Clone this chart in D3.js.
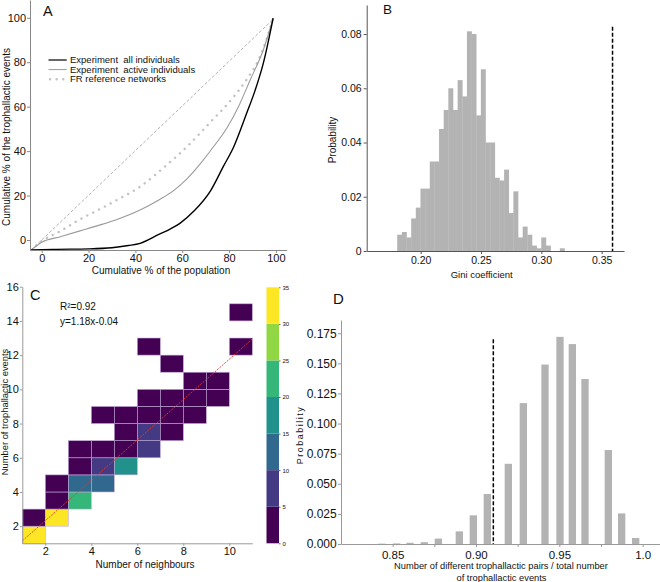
<!DOCTYPE html>
<html><head><meta charset="utf-8">
<script src="https://cdn.jsdelivr.net/npm/d3@7"></script>
<style>body{margin:0;background:#fff}svg{display:block;font-family:"Liberation Sans",Arial,sans-serif}text{white-space:pre}</style>
</head><body><svg id="c" width="660" height="582"></svg>
<script>
// ---------- Panel A data (Lorenz curves) ----------
const equalityX = [-4.5, 99];
const equalityY = [-4.5, 99.5];
const allX = [-4.5, 5, 20, 30, 37, 42, 50, 55, 59, 65, 72, 77.5, 82, 87.5, 91, 94.6, 98.8];
const allY = [-4.5, -4.2, -4, -3.5, -2.5, -1.5, 2.5, 5, 7.5, 13, 22, 33, 42, 57, 67, 79.5, 99.8];
const activeX = [-4.5, 0, 8, 16, 25, 33, 42, 50, 57, 62, 67.5, 73, 79, 84, 89, 94.6, 98.8];
const activeY = [-4.5, -1, 1.5, 4, 6.8, 9.6, 13.5, 18, 22.8, 27.5, 34, 41.5, 50.3, 60, 72, 85.5, 99.8];
const frX = [-4.5, 0, 8, 15, 25, 33, 42, 52, 62, 72, 82, 88, 93, 98.8];
const frY = [-4.5, -0.5, 4, 8.5, 14, 18.5, 24, 32.5, 42, 53, 64.5, 73, 82, 99.8];
const legendLabels = ["Experiment  all individuals", "Experiment  active individuals", "FR reference networks"];
const aTicks = [0, 20, 40, 60, 80, 100];

// ---------- Panel B data (Gini histogram) ----------
const giniBinStart = 0.1806;
const giniBinWidth = 0.00385;
const giniProb = [0.006, 0.007, 0.005, 0.012, 0.016, 0.023, 0.023, 0.033, 0.033, 0.045, 0.052, 0.060,
  0.052, 0.063, 0.057, 0.081, 0.080, 0.050, 0.067, 0.040, 0.040, 0.027, 0.026, 0.030, 0.014, 0.022,
  0.005, 0.009, 0.006, 0.002, 0.001, 0.005, 0.002, 0, 0, 0.001];
const giniObserved = 0.359;
const giniLineTop = 0.0827;
const bXTicks = [0.20, 0.25, 0.30, 0.35];
const bYTicks = [0, 0.02, 0.04, 0.06, 0.08];

// ---------- Panel C data (2D histogram) ----------
const cellX = [1, 1, 2, 2, 3, 2, 3, 4, 3, 4, 5, 3, 4, 5, 6, 5, 6, 7, 4, 5, 6, 7, 8, 6, 7, 8, 9, 8, 9, 7, 6, 10, 10];
const cellY = [1, 2, 2, 3, 3, 4, 4, 4, 5, 5, 5, 6, 6, 6, 6, 7, 7, 7, 8, 8, 8, 8, 8, 9, 9, 9, 9, 10, 10, 11, 12, 12, 14];
const cellVal = [33, 2, 33, 2, 22, 2, 12, 12, 2, 7, 17, 2, 2, 2, 7, 2, 7, 2, 2, 2, 2, 2, 2, 2, 2, 2, 2, 2, 2, 2, 2, 2, 2];
const fitSlope = 1.18, fitIntercept = -0.04;
const cXTicks = [2, 4, 6, 8, 10];
const cYTicks = [2, 4, 6, 8, 10, 12, 14, 16];
const cbarLevels = [0, 5, 10, 15, 20, 25, 30, 35];

// ---------- Panel D data (pair ratio histogram) ----------
const dCenters = [0.8435, 0.8524, 0.8604, 0.869, 0.8774, 0.89, 0.8984, 0.9068, 0.9194, 0.9284, 0.9414, 0.9504, 0.9578, 0.9654, 0.9794, 0.9874, 0.9958];
const dProb = [0.0003, 0.0005, 0.001, 0.0015, 0.0045, 0.0105, 0.0238, 0.0415, 0.0666, 0.117, 0.149, 0.172, 0.166, 0.137, 0.078, 0.0254, 0.005];
const dBinWidth = 0.0044;
const dObserved = 0.9104;
const dLineTop = 0.17;
const dXTicks = [0.85, 0.875, 0.90, 0.925, 0.95, 0.975, 1.0];
const dXLabels = ["0.85", "", "0.90", "", "0.95", "", "1.0"];
const dYTicks = [0, 0.025, 0.05, 0.075, 0.1, 0.125, 0.15, 0.175];

const FONT = '"Liberation Sans", Arial, sans-serif';
const svg = d3.select("#c");

function styleAxis(g, color, fs) {
  g.attr("font-family", FONT).attr("font-size", fs);
  g.select(".domain").attr("stroke", color).attr("stroke-width", 1);
  g.selectAll(".tick line").attr("stroke", color);
  g.selectAll(".tick text").attr("fill", "#111");
}
function label(x, y, txt, fs, anchor, rot, extra) {
  const t = svg.append("text").attr("font-family", FONT).attr("font-size", fs)
    .attr("text-anchor", anchor || "start").attr("fill", "#111").text(txt);
  if (rot) t.attr("transform", `translate(${x},${y}) rotate(${rot})`);
  else t.attr("x", x).attr("y", y);
  if (extra) extra(t);
  return t;
}

// ================= Panel A =================
const xA = d3.scaleLinear().domain([-5, 104.6]).range([30, 286.7]);
const yA = d3.scaleLinear().domain([-4.5, 108]).range([250, 0]);
const lineA = d3.line().x(d => xA(d[0])).y(d => yA(d[1])).curve(d3.curveMonotoneX);
const gA = svg.append("g");
gA.append("path").datum(d3.zip(equalityX, equalityY)).attr("d", d3.line().x(d => xA(d[0])).y(d => yA(d[1])))
  .attr("fill", "none").attr("stroke", "#9a9a9a").attr("stroke-width", 0.8).attr("stroke-dasharray", "3,2");
gA.append("path").datum(d3.zip(frX, frY)).attr("d", lineA)
  .attr("fill", "none").attr("stroke", "#c2c2c2").attr("stroke-width", 2.4)
  .attr("stroke-linecap", "round").attr("stroke-dasharray", "0.1,6.5");
gA.append("path").datum(d3.zip(activeX, activeY)).attr("d", lineA)
  .attr("fill", "none").attr("stroke", "#9a9a9a").attr("stroke-width", 1.1);
gA.append("path").datum(d3.zip(allX, allY)).attr("d", lineA)
  .attr("fill", "none").attr("stroke", "#000").attr("stroke-width", 1.4);
styleAxis(gA.append("g").attr("transform", "translate(0,250)")
  .call(d3.axisBottom(xA).tickValues(aTicks).tickSize(3).tickSizeOuter(0).tickPadding(1.5)), "#888", 11);
styleAxis(gA.append("g").attr("transform", "translate(30,0)")
  .call(d3.axisLeft(yA).tickValues(aTicks).tickSize(3).tickSizeOuter(0).tickPadding(1)), "#888", 11);
// legend
const legStyles = [
  {stroke: "#000", w: 1.2, dash: null, cap: "butt"},
  {stroke: "#9a9a9a", w: 1, dash: null, cap: "butt"},
  {stroke: "#c2c2c2", w: 2.4, dash: "0.1,6.5", cap: "round"}
];
legendLabels.forEach((t, i) => {
  const y = 60 + i * 9.6;
  gA.append("line").attr("x1", 48.5 + (i === 2 ? 1.5 : 0)).attr("x2", 66.7).attr("y1", y).attr("y2", y)
    .attr("stroke", legStyles[i].stroke).attr("stroke-width", legStyles[i].w)
    .attr("stroke-dasharray", legStyles[i].dash).attr("stroke-linecap", legStyles[i].cap);
  label(70, y + 3.2, t, 9.5);
});
label(161, 273.5, "Cumulative % of the population", 10, "middle");
label(10, 137, "Cumulative % of the trophallactic events", 10, "middle", -90);
label(43, 15.5, "A", 14.5);

// ================= Panel B =================
const xB = d3.scaleLinear().domain([0.1553, 0.3685]).range([366.7, 624]);
const yB = d3.scaleLinear().domain([0, 0.0907]).range([251, 5]);
const gB = svg.append("g");
gB.selectAll("rect").data(giniProb).join("rect")
  .attr("x", (d, i) => xB(giniBinStart + i * giniBinWidth))
  .attr("width", xB(giniBinStart + giniBinWidth) - xB(giniBinStart) + 0.3)
  .attr("y", d => yB(d)).attr("height", d => yB(0) - yB(d))
  .attr("fill", "#b3b3b3");
gB.append("line").attr("x1", xB(giniObserved)).attr("x2", xB(giniObserved))
  .attr("y1", yB(giniLineTop)).attr("y2", yB(0))
  .attr("stroke", "#000").attr("stroke-width", 1.5).attr("stroke-dasharray", "4,2");
styleAxis(gB.append("g").attr("transform", "translate(0,251)")
  .call(d3.axisBottom(xB).tickValues(bXTicks).tickFormat(d3.format(".2f")).tickSize(3).tickSizeOuter(0).tickPadding(3)), "#555", 10.5);
styleAxis(gB.append("g").attr("transform", "translate(366.7,0)")
  .call(d3.axisLeft(yB).tickValues(bYTicks).tickFormat(d => d === 0 ? "0" : d3.format(".2f")(d)).tickSize(3).tickSizeOuter(0).tickPadding(2)), "#555", 10.5);
label(481.7, 278, "Gini coefficient", 9.5, "middle");
label(336, 140, "Probability", 10, "middle", -90);
label(383, 14, "B", 13.5);

// ================= Panel C =================
const xC = d3.scaleLinear().domain([1, 11]).range([22.3, 252.3]);
const yC = d3.scaleLinear().domain([1, 16]).range([543.3, 286.7]);
const colorC = d3.scaleThreshold().domain([5, 10, 15, 20, 25, 30])
  .range(d3.range(7).map(i => d3.interpolateViridis(i / 6)));
const gC = svg.append("g");
gC.selectAll("rect").data(d3.range(cellX.length)).join("rect")
  .attr("x", i => xC(cellX[i])).attr("y", i => yC(cellY[i] + 1))
  .attr("width", i => xC(cellX[i] + 1) - xC(cellX[i]))
  .attr("height", i => yC(cellY[i]) - yC(cellY[i] + 1))
  .attr("fill", i => colorC(cellVal[i]))
  .attr("stroke", "#c2abd9").attr("stroke-width", 0.6);
gC.append("line").attr("x1", xC(1)).attr("x2", xC(11))
  .attr("y1", yC(fitSlope * 1 + fitIntercept)).attr("y2", yC(fitSlope * 11 + fitIntercept))
  .attr("stroke", "#e8352c").attr("stroke-width", 0.9).attr("stroke-dasharray", "2,1.2");
styleAxis(gC.append("g").attr("transform", "translate(0,543.3)")
  .call(d3.axisBottom(xC).tickValues(cXTicks).tickSize(2.5).tickSizeOuter(0).tickPadding(1.5)), "#999", 11);
styleAxis(gC.append("g").attr("transform", "translate(22.3,0)")
  .call(d3.axisLeft(yC).tickValues(cYTicks).tickSize(2.5).tickSizeOuter(0).tickPadding(1)), "#999", 11);
label(145, 567.5, "Number of neighbours", 10, "middle");
label(7.5, 412, "Number of trophallactic events", 9.4, "middle", -90);
label(60, 309.5, "R²=0.92", 10);
label(60, 325, "y=1.18x-0.04", 10);
label(30, 300, "C", 14.5);
// colorbar
const yCb = d3.scaleLinear().domain([0, 35]).range([543.3, 287.3]);
const gCb = svg.append("g");
gCb.selectAll("rect").data(cbarLevels.slice(0, -1)).join("rect")
  .attr("x", 266.5).attr("width", 12.5)
  .attr("y", d => yCb(d + 5)).attr("height", d => yCb(d) - yCb(d + 5))
  .attr("fill", d => colorC(d + 2.5));
styleAxis(gCb.append("g").attr("transform", "translate(279,0)")
  .call(d3.axisRight(yCb).tickValues(cbarLevels).tickSize(1.5).tickSizeOuter(0).tickPadding(2)), "#666", 6);
gCb.select(".domain").remove();
label(303, 435, "Probability", 9, "middle", -90, t => t.attr("letter-spacing", 1.5));

// ================= Panel D =================
const xD = d3.scaleLinear().domain([0.819, 1.0104]).range([341, 660]);
const yD = d3.scaleLinear().domain([0, 0.186]).range([544, 320]);
const gD = svg.append("g");
gD.selectAll("rect").data(d3.range(dCenters.length)).join("rect")
  .attr("x", i => xD(dCenters[i] - dBinWidth / 2))
  .attr("width", xD(dCenters[0] + dBinWidth) - xD(dCenters[0]))
  .attr("y", i => yD(dProb[i])).attr("height", i => yD(0) - yD(dProb[i]))
  .attr("fill", "#b3b3b3");
gD.append("line").attr("x1", xD(dObserved)).attr("x2", xD(dObserved))
  .attr("y1", yD(dLineTop)).attr("y2", yD(0))
  .attr("stroke", "#000").attr("stroke-width", 1.5).attr("stroke-dasharray", "4,2");
styleAxis(gD.append("g").attr("transform", "translate(0,544)")
  .call(d3.axisBottom(xD).tickValues(dXTicks).tickFormat((d, i) => dXLabels[i]).tickSize(3).tickSizeOuter(0).tickPadding(3.5)), "#999", 11.5);
styleAxis(gD.append("g").attr("transform", "translate(341,0)")
  .call(d3.axisLeft(yD).tickValues(dYTicks).tickFormat(d3.format(".3f")).tickSize(3).tickSizeOuter(0).tickPadding(1.3)), "#999", 12);
label(501, 568.5, "Number of different trophallactic pairs / total number", 9.3, "middle");
label(501.5, 580.5, "of trophallactic events", 9.3, "middle");
label(333, 304, "D", 15);
</script></body></html>
